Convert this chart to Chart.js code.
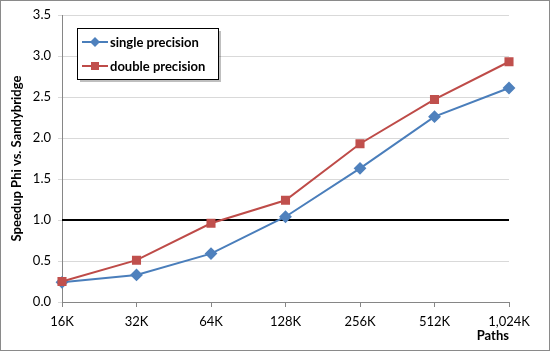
<!DOCTYPE html>
<html>
<head>
<meta charset="utf-8">
<script src="https://cdn.jsdelivr.net/npm/chart.js@4"></script>
<style>
  html, body { margin: 0; padding: 0; background: #fff; }
  #wrap { width: 550px; height: 351px; position: relative; }
</style>
</head>
<body>
<div id="wrap"><canvas id="chart" width="550" height="351"></canvas></div>
<script>
const paths = ['16K', '32K', '64K', '128K', '256K', '512K', '1,024K'];
const singlePrecision = [0.24, 0.33, 0.59, 1.04, 1.63, 2.26, 2.61];
const doublePrecision = [0.25, 0.51, 0.96, 1.24, 1.93, 2.47, 2.93];
const baseline = [1, 1, 1, 1, 1, 1, 1];
const yTicks = [0, 0.5, 1, 1.5, 2, 2.5, 3, 3.5];

const FONT = 'Lato, "Open Sans", sans-serif';

// legend drawn inside the plot area, like the excel original
const boxLegend = {
  id: 'boxLegend',
  afterDraw(chart) {
    const ctx = chart.ctx;
    const x = 77, y = 28, w = 141, h = 51;
    ctx.save();
    ctx.fillStyle = 'rgba(0,0,0,0.25)';
    ctx.fillRect(x + 3, y + 3, w, h);
    ctx.fillStyle = '#fff';
    ctx.fillRect(x, y, w, h);
    ctx.strokeStyle = '#000';
    ctx.lineWidth = 1;
    ctx.strokeRect(x + 0.5, y + 0.5, w, h);
    const items = chart.data.datasets.filter(d => !d.hideInLegend);
    items.forEach((ds, i) => {
      const cy = y + 14 + i * 24;
      ctx.strokeStyle = ds.borderColor;
      ctx.lineWidth = 2;
      ctx.beginPath();
      ctx.moveTo(x + 5, cy);
      ctx.lineTo(x + 31, cy);
      ctx.stroke();
      ctx.fillStyle = ds.pointBackgroundColor;
      if (ds.pointStyle === 'rectRot') {
        ctx.beginPath();
        ctx.moveTo(x + 18, cy - 5);
        ctx.lineTo(x + 23, cy);
        ctx.lineTo(x + 18, cy + 5);
        ctx.lineTo(x + 13, cy);
        ctx.closePath();
        ctx.fill();
      } else {
        ctx.fillRect(x + 14, cy - 4, 8, 8);
      }
      ctx.fillStyle = '#000';
      ctx.font = 'bold 13px ' + FONT;
      ctx.textBaseline = 'middle';
      ctx.fillText(ds.label, x + 33, cy + 1);
    });
    // outer frame of the picture
    ctx.strokeStyle = '#8a8a8a';
    ctx.lineWidth = 1;
    ctx.strokeRect(0.5, 0.5, chart.width - 1, chart.height - 1);
    ctx.restore();
  }
};

new Chart(document.getElementById('chart'), {
  type: 'line',
  data: {
    labels: paths,
    datasets: [
      {
        label: 'single precision',
        data: singlePrecision,
        borderColor: '#4A7EBB',
        backgroundColor: '#4F81BD',
        pointBackgroundColor: '#4F81BD',
        pointBorderColor: '#4F81BD',
        pointStyle: 'rectRot',
        pointRadius: 5,
        borderWidth: 2,
        tension: 0,
        order: 2
      },
      {
        label: 'double precision',
        data: doublePrecision,
        borderColor: '#BE4B48',
        backgroundColor: '#C0504D',
        pointBackgroundColor: '#C0504D',
        pointBorderColor: '#C0504D',
        pointStyle: 'rect',
        pointRadius: 5,
        borderWidth: 2,
        tension: 0,
        order: 1
      },
      {
        label: 'baseline',
        data: baseline,
        hideInLegend: true,
        borderColor: '#000',
        borderWidth: 2,
        pointRadius: 0,
        order: 3
      }
    ]
  },
  options: {
    responsive: false,
    animation: false,
    layout: { padding: { left: 9, top: 15, right: 41, bottom: 7 } },
    plugins: {
      legend: { display: false },
      tooltip: { enabled: false }
    },
    scales: {
      x: {
        offset: false,
        grid: {
          display: true,
          drawOnChartArea: false,
          drawTicks: true,
          tickLength: 5,
          color: '#868686'
        },
        border: { color: '#868686', width: 1 },
        ticks: {
          color: '#000',
          font: { family: FONT, size: 13 },
          padding: 7,
          maxRotation: 0,
          autoSkip: false
        },
        title: {
          display: true,
          text: 'Paths',
          align: 'end',
          color: '#000',
          font: { family: FONT, size: 13, weight: 'bold' },
          padding: { top: 0, bottom: 0 }
        },
        afterFit(scale) { scale.height = 42; }
      },
      y: {
        min: 0,
        max: 3.5,
        afterBuildTicks(scale) { scale.ticks = yTicks.map(v => ({ value: v })); },
        grid: {
          color: '#D9D9D9',
          lineWidth: 1,
          drawTicks: true,
          tickLength: 4
        },
        border: { color: '#868686', width: 1 },
        ticks: {
          color: '#000',
          font: { family: FONT, size: 13 },
          padding: 7,
          callback: v => v.toFixed(1)
        },
        title: {
          display: true,
          text: 'Speedup Phi vs. Sandybridge',
          color: '#000',
          font: { family: FONT, size: 13, weight: 'bold' },
          padding: { top: 0, bottom: 0 }
        },
        afterFit(scale) { scale.width = 53; }
      }
    }
  },
  plugins: [boxLegend]
});
</script>
</body>
</html>
